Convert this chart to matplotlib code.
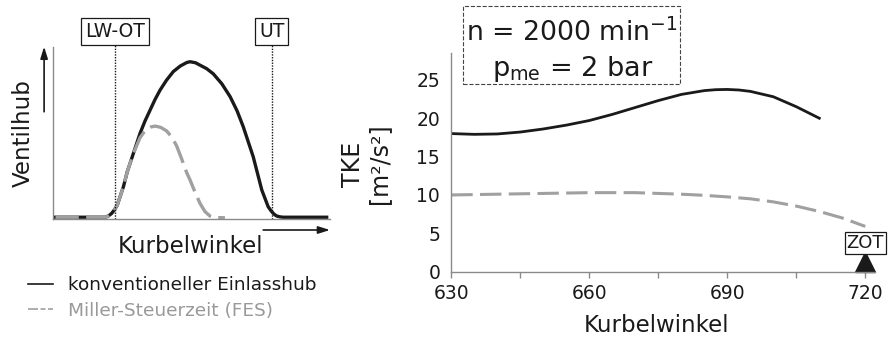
import matplotlib.pyplot as plt
from matplotlib.lines import Line2D
from matplotlib.patches import Rectangle

plt.rcParams['font.family'] = ['DejaVu Sans']

# linkes Schema: Ventilhub ueber Kurbelwinkel (willkuerliche Einheiten)
hub_x_konv = [1, 10, 19, 20.2, 21.3, 22.3, 23.3, 25.5, 26.9, 29.1, 31.5, 33.3, 35.1, 36.9,
              38.7, 41, 43.5, 46, 48.3, 49.5, 51.5, 53, 55.5, 57.9, 61, 64.0, 66.5, 68.7,
              72.3, 75.4, 77.7, 78.7, 79.5, 80.2, 80.8, 82, 83.2, 90, 98.8]
hub_y_konv = [1.2, 1.2, 1.2, 2.0, 3.5, 5.6, 8.3, 18.9, 27.6, 38.2, 49.8, 57.0, 63.2, 69.4,
              74.8, 80.5, 85.6, 88.8, 90.8, 91.3, 90.7, 89.4, 87.3, 84.3, 78.5, 71.0, 62.8, 53.7,
              36.3, 17.0, 7.3, 5.0, 3.5, 2.5, 1.9, 1.4, 1.2, 1.2, 1.2]
hub_x_miller = [1, 10, 19, 20.2, 21.3, 22.3, 23.3, 25.5, 26.9, 29.1, 31.5, 32.7, 33.9, 35.4,
                36.9, 38.9, 41.1, 43, 44.7, 46.5, 48.3, 49.5, 51.3, 53.1, 54.9, 56.7, 58.5, 62.1]
hub_y_miller = [1.2, 1.2, 1.2, 2.0, 3.5, 5.6, 8.3, 18.9, 27.6, 38.2, 47.3, 50.0, 52.1, 53.5,
                54.0, 53.3, 51.2, 47.5, 42.5, 35.0, 27.1, 22.9, 15.8, 9.3, 4.5, 1.9, 1.0, 0.9]
lw_ot = 22.5
ut = 79.0

# rechts: TKE ueber Kurbelwinkel
kw = [630, 635, 640, 645, 650, 655, 660, 665, 670, 675, 680, 685, 687.5, 690, 692.5, 695,
      700, 705, 710]
tke_konv = [18.0, 17.9, 17.95, 18.2, 18.6, 19.1, 19.7, 20.5, 21.4, 22.3, 23.1, 23.6, 23.72,
            23.75, 23.68, 23.5, 22.8, 21.5, 20.0]
kw_miller = [630, 640, 650, 660, 670, 680, 685, 690, 695, 700, 705, 710, 715, 720]
tke_miller = [10.0, 10.1, 10.2, 10.3, 10.3, 10.1, 9.95, 9.75, 9.5, 9.1, 8.55, 7.85, 7.0, 5.9]
xticks = [630, 660, 690, 720]
yticks = [0, 5, 10, 15, 20, 25]
zot = 720

schwarz = '#1a1a1a'
grau = '#a0a0a0'
achse = '#8a8a8a'

W, H = 888, 338
fig = plt.figure(figsize=(W / 100, H / 100), dpi=100)

# ---------- linkes Schema ----------
ax1 = fig.add_axes([52.7 / W, 1 - 219.3 / H, (330 - 52.7) / W, (219.3 - 46.7) / H])
ax1.plot(hub_x_konv, hub_y_konv, color=schwarz, lw=2.4, solid_joinstyle='round')
ax1.plot(hub_x_miller, hub_y_miller, color=grau, lw=2.4, dashes=(7, 2.2))
ax1.set_xlim(0, 100)
ax1.set_ylim(0, 100)
ax1.set_xticks([])
ax1.set_yticks([])
for s in ['top', 'right']:
    ax1.spines[s].set_visible(False)
for s in ['left', 'bottom']:
    ax1.spines[s].set_color(achse)
    ax1.spines[s].set_linewidth(1.0)

for xv, txt in [(lw_ot, 'LW-OT'), (ut, 'UT')]:
    ax1.plot([xv, xv], [0, 102.5], color=schwarz, lw=1.0, ls=(0, (1, 1)), clip_on=False)
    ax1.text(xv, 108.7, txt, ha='center', va='center', fontsize=13.5, color=schwarz,
             bbox=dict(boxstyle='square,pad=0.2', fc='white', ec=schwarz, lw=0.9),
             clip_on=False)

ax1.annotate('', xy=(-3.1, 100), xytext=(-3.1, 62.3), xycoords='data',
             arrowprops=dict(arrowstyle='-|>,head_length=0.7,head_width=0.22',
                             color=schwarz, lw=1.2, shrinkA=0, shrinkB=0),
             annotation_clip=False)
ax1.annotate('', xy=(100, -6.2), xytext=(75.9, -6.2), xycoords='data',
             arrowprops=dict(arrowstyle='-|>,head_length=0.7,head_width=0.22',
                             color=schwarz, lw=1.2, shrinkA=0, shrinkB=0),
             annotation_clip=False)

fig.text(23.7 / W, 1 - 133.5 / H, 'Ventilhub', rotation=90, ha='center', va='center',
         fontsize=16.5, color=schwarz)
fig.text(190 / W, 1 - 253.3 / H, 'Kurbelwinkel', ha='center', va='baseline',
         fontsize=16.5, color=schwarz)

handles = [Line2D([], [], color=schwarz, lw=1.2),
           Line2D([], [], color=grau, lw=1.2, dashes=(6, 1.5, 3, 1.5))]
fig.legend(handles, ['konventioneller Einlasshub', 'Miller-Steuerzeit (FES)'],
           loc='upper left', bbox_to_anchor=(28.3 / W, 1 - 276 / H), frameon=False,
           fontsize=13.3, handlelength=1.35, handletextpad=0.8, labelspacing=0.42,
           borderpad=0, borderaxespad=0, labelcolor=[schwarz, '#999999'])

# ---------- rechtes Diagramm ----------
ax2 = fig.add_axes([451.3 / W, 1 - 271.7 / H, (874.5 - 451.3) / W, (271.7 - 53) / H])
ax2.plot(kw, tke_konv, color=schwarz, lw=2.0)
ax2.plot(kw_miller, tke_miller, color=grau, lw=2.2, dashes=(7, 2.4))
# Dreieck sitzt mit der Basis auf der x-Achse
ax2.plot([zot], [1.25], marker='^', markersize=14.4, color=schwarz, clip_on=False)
ax2.set_xlim(630, 722)
ax2.set_ylim(0, 28.5)
ax2.set_xticks(xticks)
ax2.set_xticks([645, 675, 705], minor=True)
ax2.set_yticks(yticks)
ax2.set_yticks([0], minor=True)
ax2.tick_params(axis='x', which='both', direction='out', length=4, width=1.0, color=achse,
                labelsize=13.5, labelcolor=schwarz, pad=4.5)
ax2.tick_params(axis='y', which='major', length=0, labelsize=13.5, labelcolor=schwarz, pad=8)
ax2.tick_params(axis='y', which='minor', direction='out', length=6, width=1.0, color=achse)
for s in ['top', 'right']:
    ax2.spines[s].set_visible(False)
for s in ['left', 'bottom']:
    ax2.spines[s].set_color(achse)
    ax2.spines[s].set_linewidth(1.0)

ax2.text(zot, 3.75, 'ZOT', ha='center', va='center', fontsize=13, color=schwarz,
         bbox=dict(boxstyle='square,pad=0.1', fc='white', ec=schwarz, lw=0.9),
         clip_on=False, zorder=5)

fig.text(366 / W, 1 - 164 / H, 'TKE\n[m²/s²]', rotation=90, ha='center', va='center',
         fontsize=17, color=schwarz, linespacing=1.1)
fig.text(656.7 / W, 1 - 331.7 / H, 'Kurbelwinkel', ha='center', va='baseline',
         fontsize=16.5, color=schwarz)

# Betriebspunkt-Kasten
fig.patches.append(Rectangle((463 / W, 1 - 84 / H), (680 - 463) / W, (84 - 6) / H,
                             transform=fig.transFigure, fc='white', ec='#444444',
                             lw=0.8, ls='--', zorder=3))
fig.text(572 / W, 1 - 41 / H, 'n = 2000 min$^{\\mathregular{-1}}$', ha='center',
         va='baseline', fontsize=19.3, color=schwarz, zorder=4)
fig.text(573 / W, 1 - 76.5 / H, '$\\mathregular{p_{me}}$ = 2 bar', ha='center',
         va='baseline', fontsize=19.5, color=schwarz, zorder=4)

fig.savefig('out.png', dpi=100)
